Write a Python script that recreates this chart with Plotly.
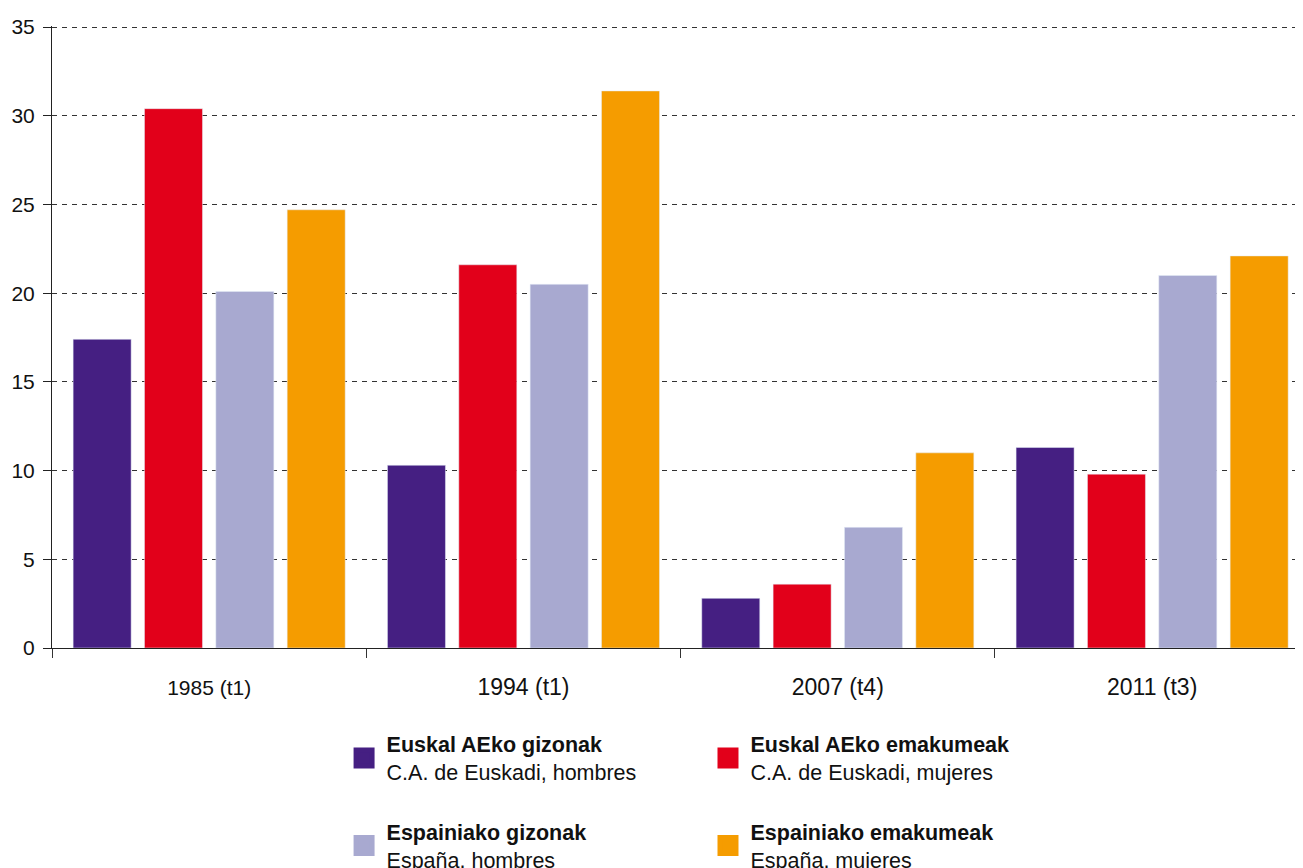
import plotly.graph_objects as go

categories = ["1985 (t1)", "1994 (t1)", "2007 (t4)", "2011 (t3)"]
tick_labels = ["<span style='font-size:21px'>1985 (t1)</span>", "1994 (t1)", "2007 (t4)", "2011 (t3)"]
series_names = [
    "<b>Euskal AEko gizonak</b><br>C.A. de Euskadi, hombres",
    "<b>Euskal AEko emakumeak</b><br>C.A. de Euskadi, mujeres",
    "<b>Espainiako gizonak</b><br>España, hombres",
    "<b>Espainiako emakumeak</b><br>España, mujeres",
]
euskadi_hombres = [17.4, 10.3, 2.8, 11.3]
euskadi_mujeres = [30.4, 21.6, 3.6, 9.8]
espana_hombres = [20.1, 20.5, 6.8, 21.0]
espana_mujeres = [24.7, 31.4, 11.0, 22.1]
colors = ["#451F82", "#E2001A", "#A8A9D0", "#F59C00"]

series = [euskadi_hombres, euskadi_mujeres, espana_hombres, espana_mujeres]
legend_ids = ["legend", "legend2", "legend3", "legend4"]

fig = go.Figure()
for name, vals, col in zip(series_names, series, colors):
    fig.add_trace(go.Bar(x=categories, y=vals, marker_color=col, showlegend=False, name=name))
for name, col, lid in zip(series_names, colors, legend_ids):
    fig.add_trace(go.Scatter(x=[None], y=[None], mode="markers", name=name, legend=lid,
                             showlegend=True,
                             marker=dict(symbol="square", size=16, color=col,
                                         line=dict(width=5, color=col))))

font = "Liberation Sans, Arial, Helvetica, sans-serif"
leg_common = dict(xref="container", yref="container", xanchor="left", yanchor="middle",
                  valign="middle", itemwidth=35, bgcolor="rgba(0,0,0,0)",
                  font=dict(size=21.5, family=font, color="#111111"))
leg_pos = [(0.2560, 0.1359), (0.5353, 0.1359), (0.2560, 0.0351), (0.5353, 0.0351)]

layout_legends = {}
for lid, (lx, ly) in zip(legend_ids, leg_pos):
    layout_legends[lid] = dict(x=lx, y=ly, **leg_common)

fig.update_layout(
    width=1303, height=868,
    margin=dict(l=44, r=8, t=18, b=228, autoexpand=False),
    paper_bgcolor="white", plot_bgcolor="white",
    font=dict(family=font, color="#111111"),
    barmode="group", bargap=0.092, bargroupgap=0.187,
    showlegend=True,
    xaxis=dict(range=[-0.5, 3.48], tickmode="array", tickvals=categories, ticktext=tick_labels,
               tickson="boundaries", ticks="outside", ticklen=9, tickcolor="#333333",
               tickfont=dict(size=23, family=font, color="#111111"),
               ticklabelstandoff=18, automargin=False,
               showline=True, linecolor="#222222", linewidth=1, showgrid=False,
               fixedrange=True),
    yaxis=dict(range=[0, 35.06], tickvals=[0, 5, 10, 15, 20, 25, 30, 35],
               ticks="outside", ticklen=8, tickcolor="#222222",
               tickfont=dict(size=21, family=font, color="#111111"),
               ticklabelstandoff=4, automargin=False,
               showline=True, linecolor="#222222", linewidth=1,
               showgrid=True, gridcolor="#333333", gridwidth=1, griddash="5px,5px",
               zeroline=False),
    **layout_legends,
)

fig.write_html("out.html")
